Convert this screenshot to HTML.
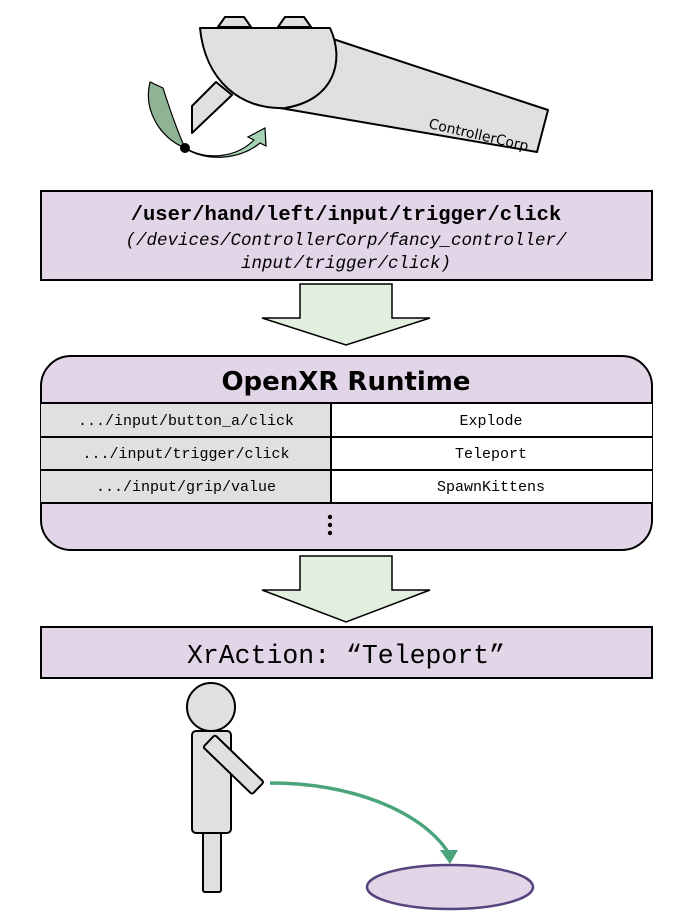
<!DOCTYPE html>
<html><head><meta charset="utf-8"><style>html,body{margin:0;padding:0;background:#fff}svg{display:block}</style></head>
<body>
<svg width="675" height="920" viewBox="0 0 675 920" xmlns="http://www.w3.org/2000/svg">
<!-- controller -->
<g stroke="#000" stroke-width="2" fill="#e0e0e0" stroke-linejoin="round">
<polygon points="218,27 225,17 244,17 251,27"/>
<polygon points="278,27 285,17 304,17 311,27"/>
<polygon points="192,133 192,106 216,82 232,95"/>
<polygon points="330,38 548,110 537,152 280,108"/>
<path d="M200,28 L330,28 C345,60 335,100 285,108 C240,110 205,80 200,28 Z"/>
</g>
<text x="428" y="128" font-family="'DejaVu Sans','Liberation Sans',sans-serif" font-size="14" transform="rotate(13 428 128)" fill="#000">ControllerCorp</text>
<!-- green rotate arrows -->
<path d="M150,82 C143,110 160,138 185,148 C176,128 170,110 163,88 Z" fill="#8fb395" stroke="#000" stroke-width="1.2"/>
<path d="M185,148 C210,162 238,156 254,140 L248,137 L265,128 L266,146 L260,143 C240,160 205,162 185,148 Z" fill="#a6d4b4" stroke="#000" stroke-width="1.2"/>
<circle cx="185" cy="148" r="5" fill="#000"/>
<!-- box 1 -->
<rect x="41" y="191" width="611" height="89" fill="#e1d5e7" stroke="#000" stroke-width="2"/>
<text x="346" y="220" text-anchor="middle" font-family="'Liberation Mono',monospace" font-weight="bold" font-size="20.5">/user/hand/left/input/trigger/click</text>
<text x="346" y="245" text-anchor="middle" font-family="'Liberation Mono',monospace" font-style="italic" font-size="17.5">(/devices/ControllerCorp/fancy_controller/</text>
<text x="346" y="268" text-anchor="middle" font-family="'Liberation Mono',monospace" font-style="italic" font-size="17.5">input/trigger/click)</text>
<!-- arrow 1 -->
<polygon points="300,284 392,284 392,318 430,318 346,345 262,318 300,318" fill="#e2efdf" stroke="#000" stroke-width="1.5"/>
<!-- runtime -->
<rect x="41" y="356" width="611" height="194" rx="30" fill="#e1d5e7" stroke="#000" stroke-width="2"/>
<text x="346" y="390" text-anchor="middle" font-family="'DejaVu Sans','Liberation Sans',sans-serif" font-weight="bold" font-size="26">OpenXR Runtime</text>
<rect x="41" y="403" width="290" height="100" fill="#e0e0e0"/>
<rect x="331" y="403" width="321" height="100" fill="#fff"/>
<g stroke="#000" stroke-width="2">
<line x1="41" y1="403" x2="652" y2="403"/>
<line x1="41" y1="437" x2="652" y2="437"/>
<line x1="41" y1="470" x2="652" y2="470"/>
<line x1="41" y1="503" x2="652" y2="503"/>
<line x1="331" y1="403" x2="331" y2="503"/>
</g>
<g font-family="'Liberation Mono',monospace" font-size="15" text-anchor="middle">
<text x="186" y="425">.../input/button_a/click</text>
<text x="186" y="458">.../input/trigger/click</text>
<text x="186" y="491">.../input/grip/value</text>
<text x="491" y="425">Explode</text>
<text x="491" y="458">Teleport</text>
<text x="491" y="491">SpawnKittens</text>
</g>
<circle cx="330" cy="517" r="2.2"/><circle cx="330" cy="525" r="2.2"/><circle cx="330" cy="533" r="2.2"/>
<!-- arrow 2 -->
<polygon points="300,556 392,556 392,590 430,590 346,622 262,590 300,590" fill="#e2efdf" stroke="#000" stroke-width="1.5"/>
<!-- XrAction -->
<rect x="41" y="627" width="611" height="51" fill="#e1d5e7" stroke="#000" stroke-width="2"/>
<text x="346" y="663" text-anchor="middle" font-family="'Liberation Mono',monospace" font-size="26.5">XrAction: “Teleport”</text>
<!-- person -->
<g stroke="#000" stroke-width="2" fill="#e0e0e0">
<rect x="203" y="832" width="18" height="60" rx="2"/>
<rect x="192" y="731" width="39" height="102" rx="4"/>
<circle cx="211" cy="707" r="24"/>
<g transform="translate(209,741) rotate(44)"><rect x="0" y="-8.5" width="68" height="17" rx="2"/></g>
</g>
<path d="M270,783 C350,783 420,810 448,852" fill="none" stroke="#4aa57c" stroke-width="3.5"/>
<polygon points="440,850 458,850 450,864" fill="#4aa57c"/>
<ellipse cx="450" cy="887" rx="83" ry="22" fill="#e1d5e7" stroke="#56447f" stroke-width="2.5"/>
</svg>
</body></html>
